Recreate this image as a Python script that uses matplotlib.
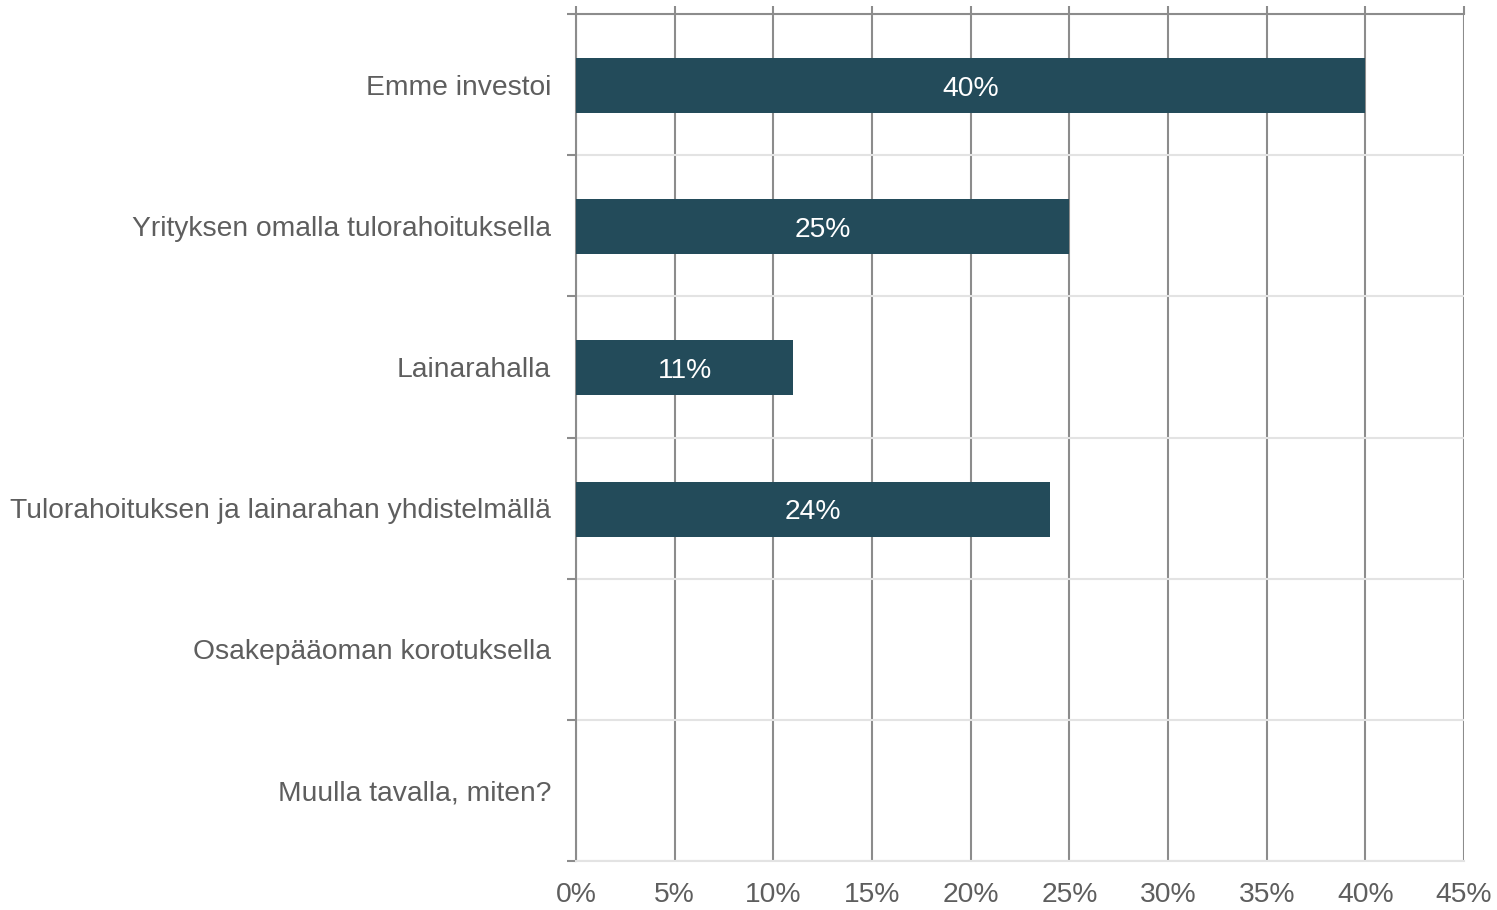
import matplotlib
matplotlib.use("Agg")
from matplotlib import pyplot as plt
import numpy as np

plt.rcParams['font.family'] = ['Liberation Sans', 'DejaVu Sans']

categories = ["Emme investoi",
              "Yrityksen omalla tulorahoituksella",
              "Lainarahalla",
              "Tulorahoituksen ja lainarahan yhdistelmällä",
              "Osakepääoman korotuksella",
              "Muulla tavalla, miten?"]
values = [40, 25, 11, 24, 0, 0]
xticks = [0, 5, 10, 15, 20, 25, 30, 35, 40, 45]

bar_color = "#234b5a"
text_color = "#5e5e5e"
grid_dark = "#8c8c8c"
grid_light = "#e3e3e3"

fig = plt.figure(figsize=(14.97, 9.10), dpi=100)
ax = fig.add_axes([576/1497, 1-861/910, (1464-576)/1497, (861-14)/910])

y = np.arange(len(categories))
ax.barh(y + 0.007, values, height=0.39, color=bar_color, zorder=3)
for yi, v in zip(y, values):
    if v > 0:
        ax.text(v/2, yi + 0.03, f"{v}%", ha="center", va="center", color="white",
                fontsize=20.3, zorder=4)

ax.set_xlim(0, 45)
ax.set_ylim(len(categories)-0.5, -0.5)

ax.set_yticks(y)
ax.set_yticklabels(categories, fontsize=20.3, color=text_color)
ax.tick_params(axis="y", which="major", length=0, pad=18)
ax.set_yticks(np.arange(-0.5, len(categories)), minor=True)
ax.tick_params(axis="y", which="minor", length=6.5, width=1.5, color=grid_dark)
ax.grid(axis="y", which="minor", color=grid_light, linewidth=1.5, zorder=0)

ax.set_xticks(xticks)
ax.set_xticklabels([f"{t}%" for t in xticks], fontsize=20.3, color=text_color)
ax.tick_params(axis="x", which="major", bottom=False, top=True, labelbottom=True,
               length=6, width=1.5, color=grid_dark, pad=9)
ax.grid(axis="x", which="major", color=grid_dark, linewidth=1.5, zorder=1)

for s in ["left", "top"]:
    ax.spines[s].set_color(grid_dark)
    ax.spines[s].set_linewidth(1.5)
ax.spines["bottom"].set_color(grid_light)
ax.spines["bottom"].set_linewidth(1.5)
ax.spines["right"].set_visible(False)

fig.savefig("out.png", dpi=100)
